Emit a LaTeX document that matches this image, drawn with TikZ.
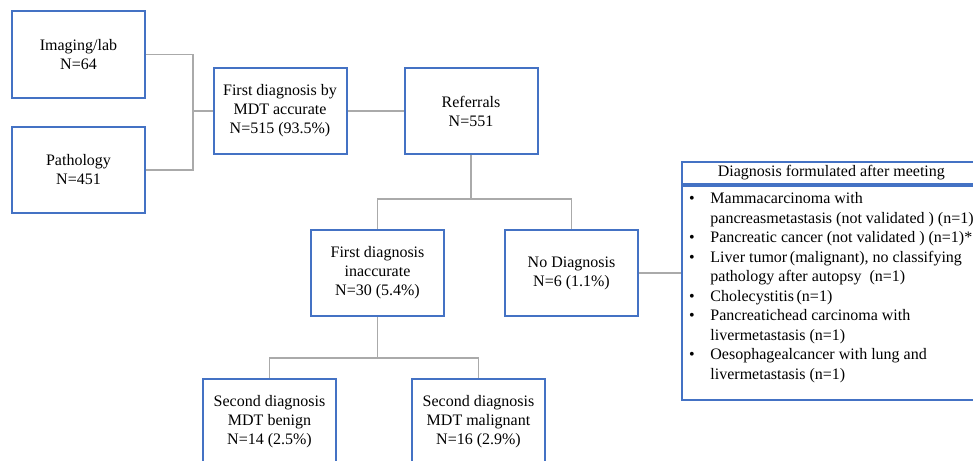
\documentclass[tikz,border=0pt]{standalone}
\usepackage{fontspec}
\setmainfont{Liberation Serif}
\usepackage{color}
\usepackage{tikz}
\definecolor{boxblue}{RGB}{68,114,196}
\definecolor{linkgray}{RGB}{170,170,170}

\begin{document}
\begin{tikzpicture}[x=0.75pt, y=-0.75pt,
box/.style={draw=boxblue, line width=1.5pt, minimum width=99.75pt,
minimum height=64.5pt, align=center, inner sep=2pt,
font=\fontsize{12}{14.25}\selectfont},
link/.style={draw=linkgray, line width=1.3pt}]
  \useasboundingbox (0,0) rectangle (973,460);
  % sources
  \node[box] (img)  at (78.5,54.5) {Imaging/lab\\N=64};
  \node[box] (path) at (78.5,170)  {Pathology\\N=451};
  % first row
  \node[box] (first) at (280,111) {First diagnosis by\\MDT accurate\\N=515 (93.5\%)};
  \node[box] (ref)   at (471,111) {Referrals\\N=551};
  % second row
  \node[box] (inacc)  at (377.5,273) {First diagnosis\\inaccurate\\N=30 (5.4\%)};
  \node[box] (nodiag) at (571.5,273) {No Diagnosis\\N=6 (1.1\%)};
  % third row
  \node[box] (benign) at (269.5,422) {Second diagnosis\\MDT benign\\N=14 (2.5\%)};
  \node[box] (malig)  at (478.5,422) {Second diagnosis\\MDT malignant\\N=16 (2.9\%)};
  % list of diagnoses
  \node[box, anchor=north west, minimum width=224pt, minimum height=16.5pt,
    inner sep=0pt] (dxhead) at (681,161) {Diagnosis formulated after meeting};
  \node[box, anchor=north west, minimum width=224pt, minimum height=160.5pt,
    align=left, inner xsep=1pt, font=\fontsize{12}{14.6}\selectfont]
    (dxlist) at (dxhead.south west)
    {\begin{tabular}{@{}p{16pt}@{}l@{}}
    \textbullet & Mammacarcinoma with\\
     & pancreasmetastasis (not validated ) (n=1)\\
    \textbullet & Pancreatic cancer\ (not validated ) (n=1)*\\
    \textbullet & Liver tumor\,(malignant), no classifying\\
     & pathology after autopsy\ \ (n=1)\\
    \textbullet & Cholecystitis\,(n=1)\\
    \textbullet & Pancreatichead carcinoma with\\
     & livermetastasis\ (n=1)\\
    \textbullet & Oesophagealcancer with lung and\\
     & livermetastasis\ (n=1)\\[8pt]
    \end{tabular}};

  \coordinate (jl) at (193,111);
  \foreach \src in {img,path}
    \draw[link] (\src.east) -| (jl);
  \draw[link] (jl) -- (first.west);
  \draw[link] (first) -- (ref);
  \foreach \dst in {inacc,nodiag}
    \draw[link] (ref.south) -- ++(0,44) -| (\dst.north);
  \foreach \dst in {benign,malig}
    \draw[link] (inacc.south) -- ++(0,41) -| (\dst.north);
  \draw[link] (nodiag.east) -- (nodiag.east -| dxlist.west);
\end{tikzpicture}
\end{document}
